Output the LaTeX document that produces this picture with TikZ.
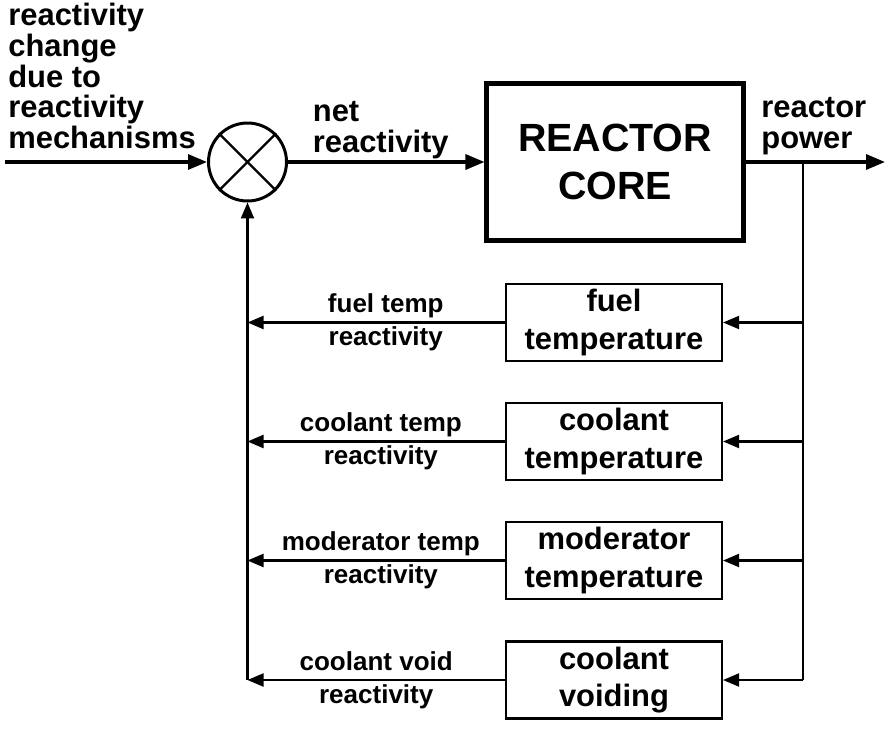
\documentclass[tikz,border=0pt]{standalone}
\usepackage{fontspec}
\setmainfont{Liberation Sans}
\usetikzlibrary{arrows.meta, positioning, shapes.geometric}

\begin{document}
\begin{tikzpicture}[
    core/.style={rectangle, draw, line width=2.3pt, minimum width=5.14cm,
        minimum height=3.14cm, align=center,
        font=\fontsize{22.4}{27.3}\selectfont\bfseries},
    fbbox/.style={rectangle, draw, line width=1.2pt, minimum width=4.32cm,
        minimum height=1.54cm, align=center, inner sep=0pt,
        font=\fontsize{17.6}{21.5}\selectfont\bfseries},
    summer/.style={circle, draw, line width=1.7pt, minimum size=1.56cm, inner sep=0pt},
    sig/.style={font=\fontsize{17.6}{17.6}\selectfont\bfseries, align=left, inner sep=0pt},
    lbl/.style={font=\fontsize{14.8}{18.8}\selectfont\bfseries, align=center, inner sep=0pt},
    fwd/.style={-{Triangle[length=0.38cm, width=0.3cm]}, line width=1.8pt},
    fb/.style={-{Triangle[length=0.32cm, width=0.26cm]}, line width=1.2pt},
    wire/.style={line width=1.2pt}
]
    \useasboundingbox (0,0) rectangle (17.9,-14.66);

    % === forward path ===
    \coordinate (in) at (0.1, -3.24);
    \node[summer] (sum) at (4.95, -3.24) {};
    \node[core] (core) at (12.3, -3.24) {REACTOR\\CORE};
    \coordinate (out) at (17.7, -3.24);
    \coordinate (tap0) at (16.06, -3.24);

    \draw[line width=1.4pt] (sum.north west) -- (sum.south east);
    \draw[line width=1.4pt] (sum.north east) -- (sum.south west);

    % === signal labels ===
    \node[sig, anchor=west] (mech) at (0.16, -1.52) {reactivity\\change\\due to\\reactivity\\mechanisms};
    \node[sig, anchor=west] (net) at (6.25, -2.61) {net\\reactivity};
    \node[sig, anchor=west] (power) at (15.22, -2.52) {reactor\\power};

    % === feedback blocks ===
    \node[fbbox] (fuel) at (12.28, -6.45) {fuel\\temperature};
    \node[fbbox] (cool) at (12.28, -8.83) {coolant\\temperature};
    \node[fbbox] (mod)  at (12.28, -11.21) {moderator\\temperature};
    \node[fbbox] (void) at (12.28, -13.6) {coolant\\voiding};

    \coordinate (tap1) at (16.06, -6.45);
    \coordinate (tap2) at (16.06, -8.83);
    \coordinate (tap3) at (16.06, -11.21);
    \coordinate (tap4) at (16.06, -13.6);
    \coordinate (fb1) at (4.95, -6.45);
    \coordinate (fb2) at (4.95, -8.83);
    \coordinate (fb3) at (4.95, -11.21);
    \coordinate (fb4) at (4.95, -13.6);

    % --- forward arrows ---
    \draw[fwd] (in) -- (sum.west);
    \draw[fwd] (sum.east) -- (core.west);
    \draw[fwd] (core.east) -- (out);

    % --- power pick-off ---
    \draw[wire] (tap0) -- (tap4);
    \draw[fb] (tap1) -- (fuel.east);
    \draw[fb] (tap2) -- (cool.east);
    \draw[fb] (tap3) -- (mod.east);
    \draw[fb] (tap4) -- (void.east);

    % --- reactivity feedback ---
    \draw[fb] (fuel.west) -- node[lbl, pos=0.463] {fuel temp\\reactivity} (fb1);
    \draw[fb] (cool.west) -- node[lbl, pos=0.482] {coolant temp\\reactivity} (fb2);
    \draw[fb] (mod.west) -- node[lbl, pos=0.482] {moderator temp\\reactivity} (fb3);
    \draw[fb] (void.west) -- node[lbl, pos=0.5] {coolant void\\reactivity} (fb4);
    \draw[fb] (fb4) -- (sum.south);
\end{tikzpicture}
\end{document}
